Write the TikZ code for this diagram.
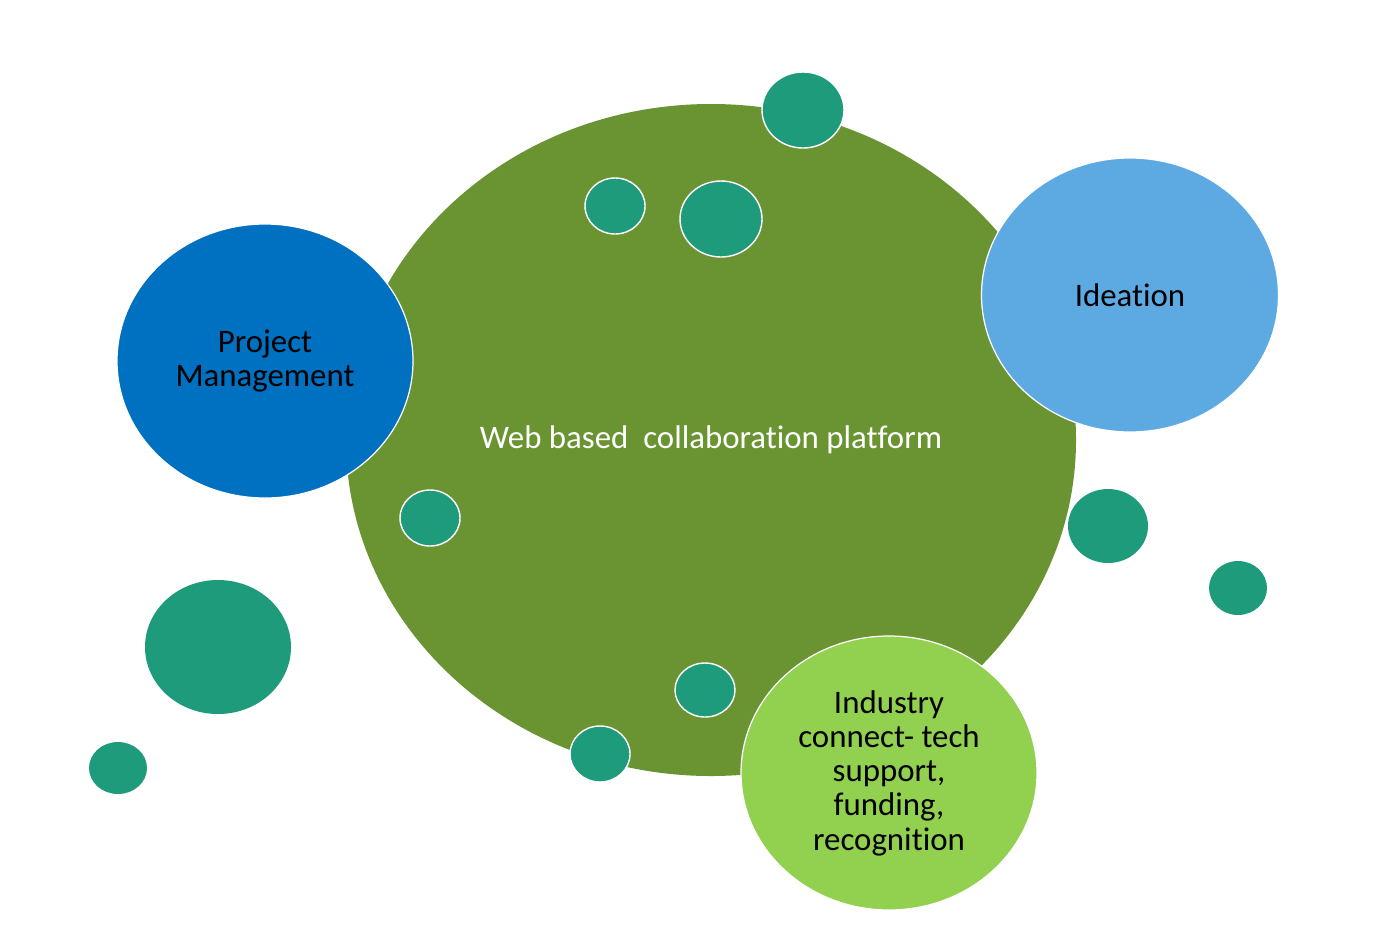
\documentclass[tikz,border=0pt]{standalone}
\usepackage{fontspec}
\setmainfont{Carlito}[Ligatures=NoCommon]
\usetikzlibrary{shapes.geometric}
\definecolor{olive}{RGB}{106,147,50}
\definecolor{pmblue}{RGB}{0,112,192}
\definecolor{skyblue}{RGB}{93,170,226}
\definecolor{limegreen}{RGB}{146,208,80}
\definecolor{teal}{RGB}{30,155,122}
\tikzset{
  bubble/.style={ellipse,inner sep=0pt,draw=white,line width=0.7pt,
    align=center,font=\fontsize{18.7}{19.5}\selectfont},
  dot/.style={ellipse,inner sep=0pt,fill=teal,draw=white,line width=0.8pt},
  plain/.style={ellipse,inner sep=0pt,fill=teal}
}
\begin{document}
\begin{tikzpicture}[x=0.2mm,y=-0.2mm]
		% border
		\useasboundingbox (0,0) rectangle (1382,945);
		% platform
		\node[bubble,fill=olive,draw=none,text=white,minimum width=146mm,minimum height=134.4mm] (web) at (711,440) {Web based\ \ collaboration platform};
		% the three topics
		\node[bubble,fill=pmblue,minimum width=59.2mm,minimum height=54.8mm] (pm) at (265,361) {Project\\Management};
		\node[bubble,fill=skyblue,minimum width=59.4mm,minimum height=54.8mm] (idea) at (1130,295) {Ideation};
		\node[bubble,fill=limegreen,minimum width=59.2mm,minimum height=54.8mm] (ind) at (889,773) {Industry\\connect- tech\\support,\\funding,\\recognition};
		% small bubbles on the platform
		\node[dot,minimum width=16.4mm,minimum height=15.2mm] (d1) at (803,110) {};
		\node[dot,minimum width=12mm,minimum height=11.2mm] (d2) at (615,206) {};
		\node[dot,minimum width=16.4mm,minimum height=15.2mm] (d3) at (721,219) {};
		\node[dot,minimum width=12mm,minimum height=11.2mm] (d4) at (430,518) {};
		\node[dot,minimum width=12mm,minimum height=10.8mm] (d5) at (705,690) {};
		\node[dot,minimum width=12mm,minimum height=11.2mm] (d6) at (600,754) {};
		% loose bubbles
		\node[plain,minimum width=16mm,minimum height=14.8mm] (d7) at (1108,526) {};
		\node[plain,minimum width=11.6mm,minimum height=10.8mm] (d8) at (1238,588) {};
		\node[plain,minimum width=29.2mm,minimum height=26.8mm] (d9) at (218,647) {};
		\node[plain,minimum width=11.6mm,minimum height=10.4mm] (d10) at (118,768) {};
	\end{tikzpicture}
\end{document}
